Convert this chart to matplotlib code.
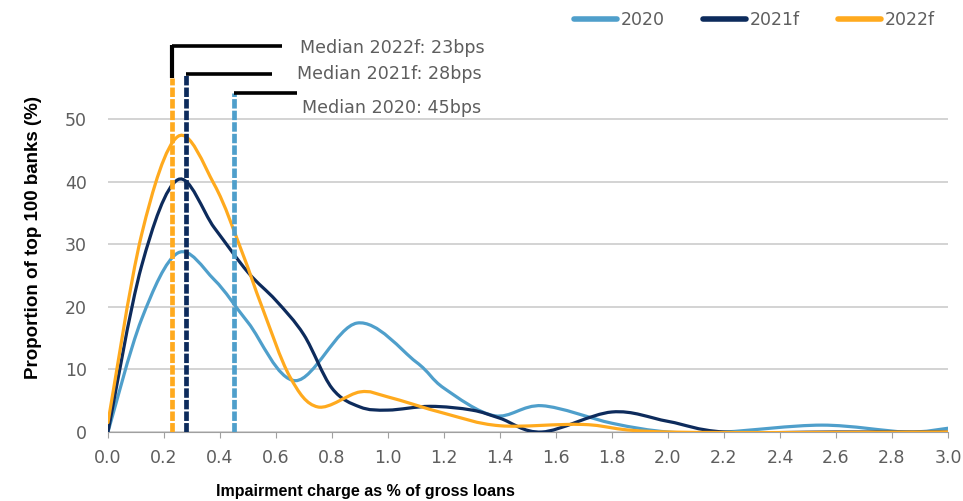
import matplotlib
matplotlib.use("Agg")
import matplotlib.pyplot as plt
import numpy as np
from matplotlib.path import Path
from matplotlib.patches import PathPatch
from matplotlib.lines import Line2D

# impairment charge (% of gross loans) vs share of top 100 banks (%)
x_2020 = [0.0, 0.12, 0.25, 0.38, 0.5, 0.67, 0.89, 1.1, 1.2, 1.38, 1.55, 1.8, 2.0, 2.2, 2.55, 2.85, 3.0]
y_2020 = [0.0, 18.0, 28.6, 24.3, 17.5, 8.2, 17.4, 11.2, 7.0, 2.6, 4.2, 1.4, 0.0, 0.0, 1.1, 0.0, 0.6]

x_2021 = [0.0, 0.12, 0.25, 0.38, 0.5, 0.6, 0.7, 0.8, 0.9, 1.0, 1.15, 1.3, 1.4, 1.55, 1.8, 2.0, 2.2, 2.6, 3.0]
y_2021 = [0.0, 26.5, 40.3, 32.6, 25.5, 21.0, 15.5, 7.0, 4.0, 3.5, 4.1, 3.5, 2.2, 0.0, 3.2, 1.7, 0.0, 0.0, 0.0]

x_2022 = [0.0, 0.12, 0.25, 0.38, 0.48, 0.55, 0.65, 0.75, 0.9, 1.0, 1.2, 1.4, 1.7, 2.0, 3.0]
y_2022 = [1.5, 31.5, 47.2, 39.5, 28.6, 20.0, 8.8, 4.0, 6.4, 5.6, 3.0, 1.0, 1.2, 0.0, 0.0]

series = ["2020", "2021f", "2022f"]
colors = ["#4F9FCB", "#0D2B5C", "#FFAA1E"]
medians = [0.45, 0.28, 0.23]
median_text = ["Median 2020: 45bps", "Median 2021f: 28bps", "Median 2022f: 23bps"]


def smooth_path(xs, ys):
    # Catmull-Rom style bezier, like a spreadsheet "smoothed line"
    pts = np.column_stack([xs, ys]).astype(float)
    n = len(pts)
    verts = [pts[0]]
    codes = [Path.MOVETO]
    for i in range(n - 1):
        p0 = pts[i - 1] if i > 0 else pts[i]
        p1, p2 = pts[i], pts[i + 1]
        p3 = pts[i + 2] if i + 2 < n else pts[i + 1]
        c1 = p1 + (p2 - p0) / 6.0
        c2 = p2 - (p3 - p1) / 6.0
        verts += [c1, c2, p2]
        codes += [Path.CURVE4] * 3
    return Path(verts, codes)


plt.rcParams['font.family'] = ['DejaVu Sans']
fig = plt.figure(figsize=(9.63, 5.01), dpi=100)
ax = fig.add_axes([0.1121, 0.1377, 0.8723, 0.775])

grey = "#5E5E5E"
ax.set_xlim(0, 3.0)
ax.set_ylim(0, 62)
ticks = np.arange(0, 3.01, 0.2)
ax.set_xticks(ticks)
ax.set_xticklabels([f"{v:.1f}" for v in ticks])
ax.set_yticks([0, 10, 20, 30, 40, 50])
ax.grid(axis='y', color="#C8C8C8", lw=1.1)
ax.set_axisbelow(True)
for s in ["top", "right", "left"]:
    ax.spines[s].set_visible(False)
ax.spines["bottom"].set_color("#A0A0A0")
ax.tick_params(axis='x', colors="#A0A0A0", length=4, labelcolor=grey, labelsize=12.5, pad=8)
ax.tick_params(axis='y', length=0, labelcolor=grey, labelsize=12.5, pad=15)

for xs, ys, c in zip([x_2020, x_2021, x_2022], [y_2020, y_2021, y_2022], colors):
    ax.add_patch(PathPatch(smooth_path(xs, ys), fill=False, edgecolor=c,
                           lw=2.3, zorder=3, capstyle='round'))

# dashed median markers and their bracket labels
dash_top = [54.2, 57.0, 56.5]
line_y = [54.2, 57.1, 61.6]
line_end = [0.675, 0.586, 0.621]
text_x = [0.693, 0.675, 0.686]
text_y = [51.8, 57.2, 61.3]
for i, (m, c) in enumerate(zip(medians, colors)):
    ax.plot([m, m], [0, dash_top[i]], color=c, lw=3.4, ls=(0, (2.0, 0.45)), zorder=4)
    ax.plot([m, line_end[i]], [line_y[i], line_y[i]], color="black", lw=2.6,
            clip_on=False, zorder=5, solid_capstyle='butt')
    ax.text(text_x[i], text_y[i], median_text[i], color=grey, fontsize=12.6, va='center')
# 2022f bracket has a riser up to its label line
ax.plot([medians[2], medians[2]], [dash_top[2], line_y[2] + 0.2], color="black", lw=3,
        clip_on=False, zorder=5, solid_capstyle='butt')

ax.set_ylabel("Proportion of top 100 banks (%)", fontsize=13.5, fontweight='bold',
              family='Liberation Sans', labelpad=17)
fig.text(0.379, 0.018, "Impairment charge as % of gross loans", fontsize=11.5,
         fontweight='bold', ha='center', va='center', family='Liberation Sans')

handles = [Line2D([], [], color=c, lw=4, solid_capstyle='round') for c in colors]
leg = fig.legend(handles, series, loc='upper right', bbox_to_anchor=(0.987, 1.01), ncol=3,
                 frameon=False, fontsize=12.5, handlelength=2.5, handletextpad=0.2,
                 columnspacing=2.2)
for t in leg.get_texts():
    t.set_color(grey)

fig.savefig("out.png", dpi=100)
